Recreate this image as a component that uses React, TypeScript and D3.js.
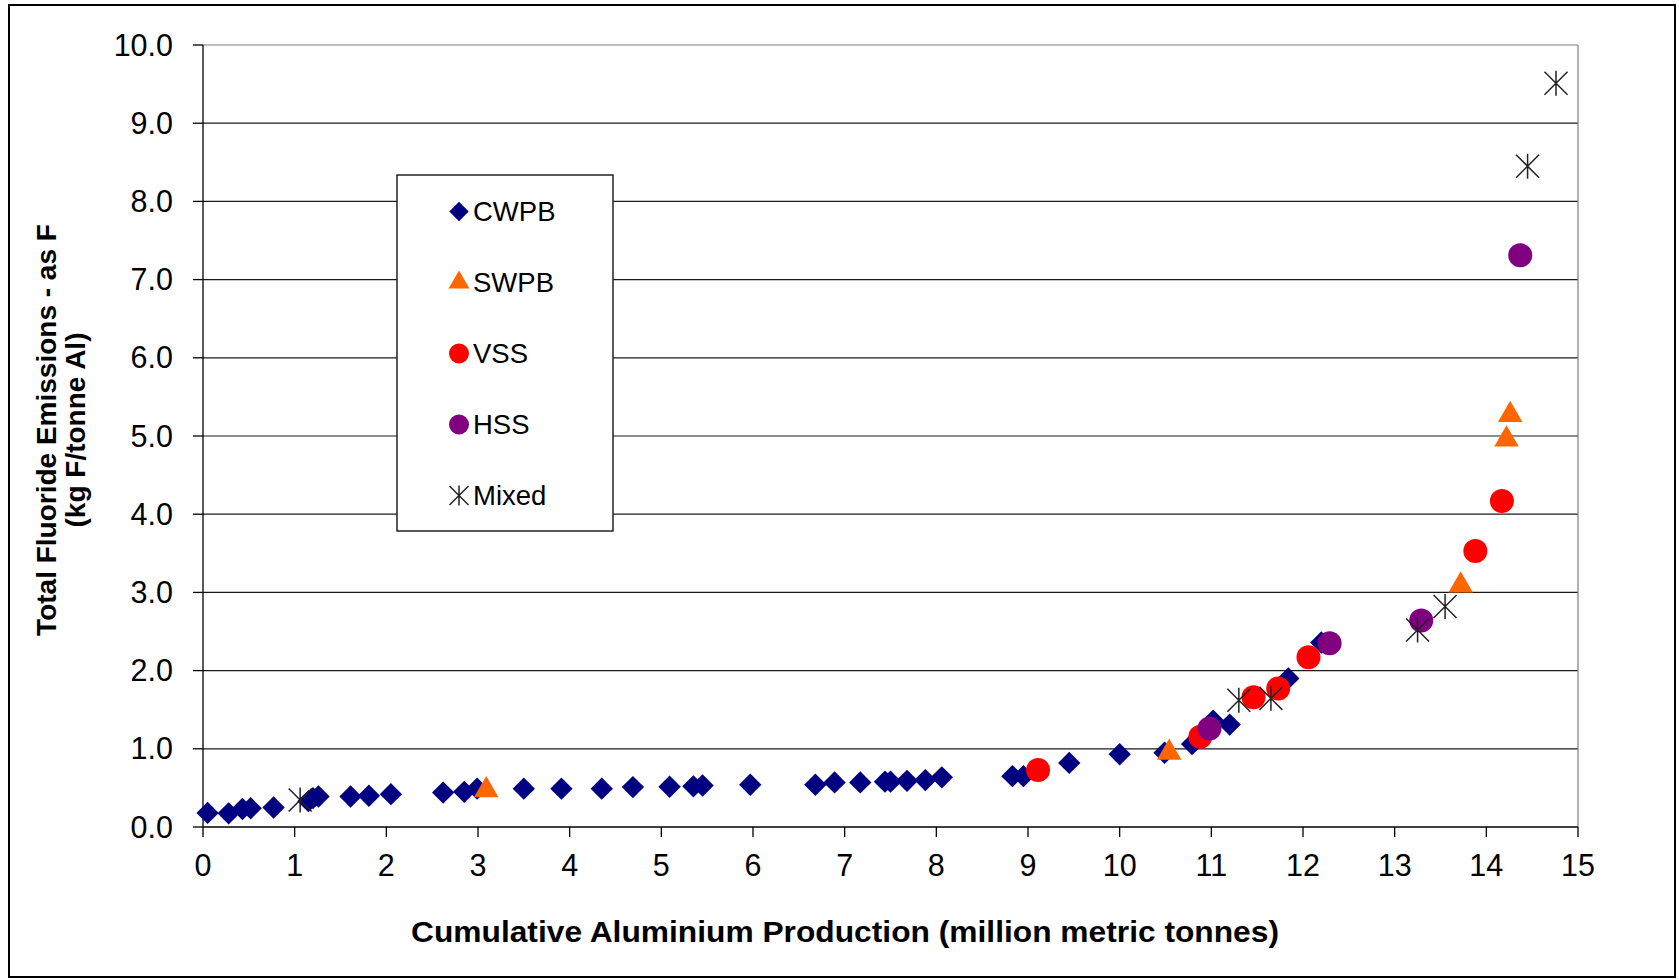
import React from "react";
import * as d3 from "d3";

const cwpbX = [0.05,0.28,0.43,0.52,0.77,1.15,1.2,1.26,1.61,1.81,2.05,2.62,2.85,2.99,3.5,3.91,4.35,4.69,5.09,5.35,5.45,5.97,6.68,6.89,7.17,7.44,7.5,7.68,7.88,8.06,8.83,8.95,9.45,10.0,10.49,10.79,11.02,11.2,11.84,12.2];
const cwpbY = [0.18,0.175,0.23,0.24,0.25,0.33,0.37,0.39,0.39,0.4,0.42,0.44,0.45,0.49,0.49,0.49,0.49,0.51,0.515,0.52,0.53,0.54,0.54,0.57,0.57,0.58,0.58,0.59,0.6,0.635,0.65,0.65,0.82,0.93,0.95,1.06,1.36,1.31,1.9,2.36];
const swpbX = [3.09,10.54,13.72,14.22,14.26];
const swpbY = [0.47,0.95,3.09,4.955,5.27];
const vssX = [9.11,10.88,11.46,11.73,12.06,13.88,14.17];
const vssY = [0.73,1.155,1.66,1.77,2.17,3.53,4.17];
const hssX = [10.98,12.29,13.29,14.37];
const hssY = [1.26,2.35,2.64,7.31];
const mixedX = [1.06,11.3,11.65,13.25,13.55,14.45,14.76];
const mixedY = [0.345,1.62,1.645,2.52,2.82,8.45,9.51];

const seriesNames = ["CWPB","SWPB","VSS","HSS","Mixed"];
const seriesColors = ["#000080","#FF6600","#FF0000","#800080","#222222"];
const xTicks = [0,1,2,3,4,5,6,7,8,9,10,11,12,13,14,15];
const yTicks = [0,1,2,3,4,5,6,7,8,9,10];

const xTitle = "Cumulative Aluminium Production (million metric tonnes)";
const yTitle1 = "Total Fluoride Emissions - as F";
const yTitle2 = "(kg F/tonne Al)";

const FONT = "'Liberation Sans', Arial, sans-serif";

function Marker({ kind, cx, cy, big }: { kind: number; cx: number; cy: number; big: boolean }) {
  const color = seriesColors[kind];
  if (kind === 0) {
    const p = d3.symbol(d3.symbolSquare, big ? 250 : 190)();
    return <path d={p || ""} transform={`translate(${cx},${cy}) rotate(45)`} fill={color} />;
  }
  if (kind === 1) {
    const p = d3.symbol(d3.symbolTriangle, big ? 260 : 190)();
    return <path d={p || ""} transform={`translate(${cx},${cy})`} fill={color} />;
  }
  if (kind === 2 || kind === 3) {
    return <circle cx={cx} cy={cy} r={big ? 12 : 10} fill={color} />;
  }
  const a = big ? 11.5 : 9.5;
  const v = big ? 12.5 : 10;
  const path = d3.path();
  path.moveTo(-a, -a); path.lineTo(a, a);
  path.moveTo(-a, a); path.lineTo(a, -a);
  path.moveTo(0, -v); path.lineTo(0, v);
  return <path d={path.toString()} transform={`translate(${cx},${cy})`} stroke={color} strokeWidth={1.5} fill="none" />;
}

export default function App() {
  const W = 1679, H = 980;
  const x = d3.scaleLinear().domain([0, 15]).range([203, 1578]);
  const y = d3.scaleLinear().domain([0, 10]).range([827, 45]);

  const series = [
    { xs: cwpbX, ys: cwpbY },
    { xs: swpbX, ys: swpbY },
    { xs: vssX, ys: vssY },
    { xs: hssX, ys: hssY },
    { xs: mixedX, ys: mixedY },
  ];

  const legendX = 459, legendY0 = 211.5, legendStep = 71;

  return (
    <svg width={W} height={H} style={{ position: "absolute", left: 0, top: 0, background: "#fff" }} fontFamily={FONT}>
      <rect x={0} y={0} width={W} height={H} fill="#fff" />
      <rect x={9} y={5} width={1666} height={972} fill="none" stroke="#000" strokeWidth={2} />

      {/* gridlines */}
      {yTicks.filter(t => t > 0 && t < 10).map(t => (
        <line key={"g" + t} x1={x(0)} x2={x(15)} y1={y(t)} y2={y(t)} stroke="#1a1a1a" strokeWidth={1.2} />
      ))}
      {/* plot border top/right */}
      <line x1={x(0)} x2={x(15)} y1={y(10)} y2={y(10)} stroke="#7f7f7f" strokeWidth={1.2} />
      <line x1={x(15)} x2={x(15)} y1={y(10)} y2={y(0)} stroke="#7f7f7f" strokeWidth={1.2} />

      {/* axes */}
      <line x1={x(0)} x2={x(0)} y1={y(10)} y2={y(0)} stroke="#000" strokeWidth={1.3} />
      <line x1={x(0)} x2={x(15)} y1={y(0)} y2={y(0)} stroke="#000" strokeWidth={1.3} />
      {yTicks.map(t => (
        <g key={"yt" + t}>
          <line x1={x(0) - 10} x2={x(0)} y1={y(t)} y2={y(t)} stroke="#000" strokeWidth={1.3} />
          <text x={173} y={y(t) + 10.5} textAnchor="end" fontSize={30.5} fill="#000">{t.toFixed(1)}</text>
        </g>
      ))}
      {xTicks.map(t => (
        <g key={"xt" + t}>
          <line x1={x(t)} x2={x(t)} y1={y(0)} y2={y(0) + 10} stroke="#000" strokeWidth={1.3} />
          <text x={x(t)} y={876} textAnchor="middle" fontSize={30.5} fill="#000">{t}</text>
        </g>
      ))}

      {/* axis titles */}
      <text x={845} y={942} textAnchor="middle" fontSize={29} fontWeight="bold" textLength={868} lengthAdjust="spacingAndGlyphs">{xTitle}</text>
      <text transform={`translate(56,430) rotate(-90)`} textAnchor="middle" fontSize={28} fontWeight="bold">{yTitle1}</text>
      <text transform={`translate(85,430) rotate(-90)`} textAnchor="middle" fontSize={28} fontWeight="bold">{yTitle2}</text>

      {/* data */}
      {series.map((s, k) => (
        <g key={"s" + k}>
          {s.xs.map((xv, i) => (
            <Marker key={i} kind={k} cx={x(xv)} cy={y(s.ys[i])} big={true} />
          ))}
        </g>
      ))}

      {/* legend */}
      <rect x={397} y={175} width={216} height={356} fill="#fff" stroke="#222" strokeWidth={1.5} />
      {seriesNames.map((n, k) => (
        <g key={"l" + k}>
          <Marker kind={k} cx={legendX} cy={legendY0 + k * legendStep} big={false} />
          <text x={473} y={legendY0 + k * legendStep + 9.5} fontSize={27.5} fill="#000">{n}</text>
        </g>
      ))}
    </svg>
  );
}
